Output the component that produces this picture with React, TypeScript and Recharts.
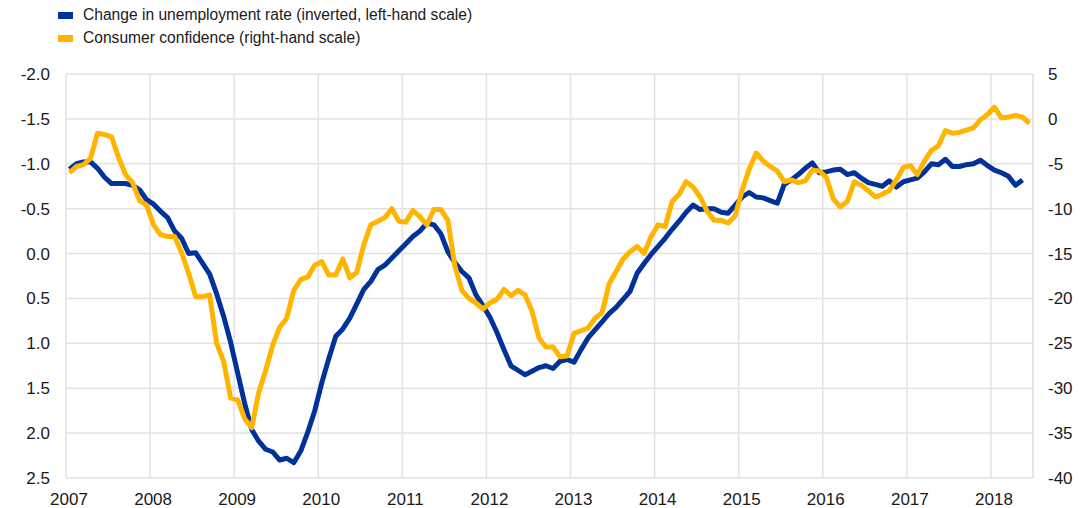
import React from "react";
import {
  LineChart,
  Line,
  XAxis,
  YAxis,
  CartesianGrid,
  ReferenceLine,
} from "recharts";

const START_YEAR = 2007;

// Change in unemployment rate, monthly from Jan 2007 (left-hand scale, inverted)
const unemploymentChange: number[] = [
  -0.94, -1.0, -1.02, -1.02, -0.95, -0.85, -0.78, -0.78, -0.78, -0.76, -0.71, -0.6,
  -0.55, -0.47, -0.4, -0.25, -0.17, 0.0, -0.01, 0.11, 0.23, 0.45, 0.7, 0.99,
  1.33, 1.67, 1.96, 2.09, 2.18, 2.21, 2.3, 2.28, 2.33, 2.2, 1.99, 1.75,
  1.44, 1.17, 0.92, 0.84, 0.72, 0.56, 0.4, 0.31, 0.18, 0.13, 0.05, -0.03,
  -0.11, -0.19, -0.25, -0.34, -0.32, -0.22, -0.02, 0.1, 0.2, 0.27, 0.46, 0.58,
  0.71, 0.88, 1.07, 1.25, 1.3, 1.35, 1.31, 1.27, 1.25, 1.28, 1.2, 1.18,
  1.21, 1.07, 0.94, 0.85, 0.76, 0.67, 0.6, 0.51, 0.42, 0.22, 0.11, 0.01,
  -0.08, -0.17, -0.27, -0.36, -0.46, -0.54, -0.49, -0.5, -0.5, -0.46, -0.45, -0.54,
  -0.63, -0.68, -0.63, -0.62, -0.59, -0.56, -0.77, -0.82, -0.88, -0.95, -1.01, -0.9,
  -0.91, -0.93, -0.94, -0.88, -0.9, -0.84, -0.79, -0.77, -0.75, -0.81, -0.74, -0.8,
  -0.82, -0.84, -0.91, -1.0, -0.99, -1.05, -0.97, -0.97, -0.99, -1.0, -1.04, -0.98,
  -0.93, -0.9, -0.86, -0.76, -0.82,
];

// Consumer confidence, monthly from Jan 2007 (right-hand scale)
const consumerConfidence: number[] = [
  -6.0, -5.3, -5.1, -4.4, -1.6, -1.75, -2.0, -4.3, -6.2, -7.1, -9.1, -9.6,
  -11.8, -12.9, -13.1, -13.1, -14.9, -17.2, -19.8, -19.8, -19.6, -25.0, -27.0, -31.1,
  -31.3, -33.4, -34.4, -30.5, -28.0, -25.2, -23.2, -22.2, -19.1, -17.9, -17.6, -16.3,
  -15.9, -17.4, -17.4, -15.6, -17.7, -17.1, -14.0, -11.8, -11.4, -11.0, -10.0, -11.4,
  -11.5, -10.2, -10.9, -11.8, -10.1, -10.1, -11.3, -16.4, -19.1, -20.0, -20.5, -21.2,
  -20.5, -20.1, -19.0, -19.7, -19.1, -19.6, -21.4, -24.4, -25.4, -25.4, -26.5, -26.4,
  -23.9, -23.6, -23.3, -22.2, -21.6, -18.4, -17.0, -15.6, -14.8, -14.2, -15.0, -13.1,
  -11.8, -12.0, -9.2, -8.4, -7.0, -7.6, -8.7, -10.3, -11.3, -11.3, -11.6, -10.8,
  -7.9, -5.6, -3.8, -4.7, -5.3, -5.8, -7.0, -6.8, -7.1, -6.9, -5.7, -5.8,
  -6.5, -8.9, -9.8, -9.2, -7.0, -7.4, -8.0, -8.7, -8.4, -8.0, -6.8, -5.4,
  -5.2, -6.2, -4.7, -3.5, -3.0, -1.3, -1.6, -1.5, -1.25, -1.0, -0.1, 0.5,
  1.3, 0.1, 0.2, 0.4, 0.2, -0.5,
];

const yearTicks: number[] = [2007, 2008, 2009, 2010, 2011, 2012, 2013, 2014, 2015, 2016, 2017, 2018];
const leftTicks: number[] = [-2.0, -1.5, -1.0, -0.5, 0.0, 0.5, 1.0, 1.5, 2.0, 2.5];
const rightTicks: number[] = [-40, -35, -30, -25, -20, -15, -10, -5, 0, 5];

const BLUE = "#003299";
const ORANGE = "#FFB400";
const GRID = "#e2e2e2";
const FONT = "'Liberation Sans', Arial, Helvetica, sans-serif";

const monthCount = Math.max(unemploymentChange.length, consumerConfidence.length);
const data = Array.from({ length: monthCount }, (_, i) => ({
  t: START_YEAR + (i + 0.5) / 12,
  u: i < unemploymentChange.length ? unemploymentChange[i] : null,
  c: i < consumerConfidence.length ? consumerConfidence[i] : null,
}));

const tickStyle = { fontSize: 17, fill: "#1a1a1a", fontFamily: FONT };

export default function App() {
  return (
    <div style={{ position: "absolute", left: 0, top: 0, width: 1086, height: 508, fontFamily: FONT }}>
      <div style={{ position: "absolute", left: 0, top: 0, width: 1086, height: 60 }}>
        <div style={{ position: "absolute", left: 58, top: 12, width: 15, height: 7, background: BLUE }} />
        <div style={{ position: "absolute", left: 83, top: 5, fontSize: 15.6, lineHeight: "20px", color: "#1a1a1a", whiteSpace: "nowrap" }}>
          Change in unemployment rate (inverted, left-hand scale)
        </div>
        <div style={{ position: "absolute", left: 58, top: 35, width: 15, height: 7, background: ORANGE }} />
        <div style={{ position: "absolute", left: 83, top: 28, fontSize: 15.6, lineHeight: "20px", color: "#1a1a1a", whiteSpace: "nowrap" }}>
          Consumer confidence (right-hand scale)
        </div>
      </div>
      <LineChart
        width={1086}
        height={508}
        data={data}
        margin={{ top: 74, right: 0, bottom: 0, left: 0 }}
      >
        <CartesianGrid yAxisId="left" stroke={GRID} strokeWidth={1.5} />
        <XAxis
          dataKey="t"
          type="number"
          domain={[2007, 2018.5]}
          allowDataOverflow
          ticks={yearTicks}
          tickFormatter={(v: number) => String(Math.round(v))}
          axisLine={false}
          tickLine={false}
          tickSize={0}
          tickMargin={15}
          height={30}
          dx={3}
          tick={tickStyle}
          interval={0}
        />
        <YAxis
          yAxisId="left"
          orientation="left"
          reversed
          type="number"
          domain={[-2, 2.5]}
          allowDataOverflow
          ticks={leftTicks}
          tickFormatter={(v: number) => v.toFixed(1)}
          axisLine={false}
          tickLine={false}
          tickSize={0}
          tickMargin={16}
          width={66}
          tick={tickStyle}
          interval={0}
        />
        <YAxis
          yAxisId="right"
          orientation="right"
          type="number"
          domain={[-40, 5]}
          allowDataOverflow
          ticks={rightTicks}
          axisLine={false}
          tickLine={false}
          tickSize={0}
          tickMargin={15}
          width={53}
          tick={tickStyle}
          interval={0}
        />
        <ReferenceLine yAxisId="left" x={2018.5} stroke={GRID} strokeWidth={1.5} />
        <Line
          yAxisId="left"
          type="linear"
          dataKey="u"
          stroke={BLUE}
          strokeWidth={5}
          strokeLinejoin="round"
          dot={false}
          activeDot={false}
          isAnimationActive={false}
          connectNulls={false}
        />
        <Line
          yAxisId="right"
          type="linear"
          dataKey="c"
          stroke={ORANGE}
          strokeWidth={5}
          strokeLinejoin="round"
          dot={false}
          activeDot={false}
          isAnimationActive={false}
          connectNulls={false}
        />
      </LineChart>
    </div>
  );
}
